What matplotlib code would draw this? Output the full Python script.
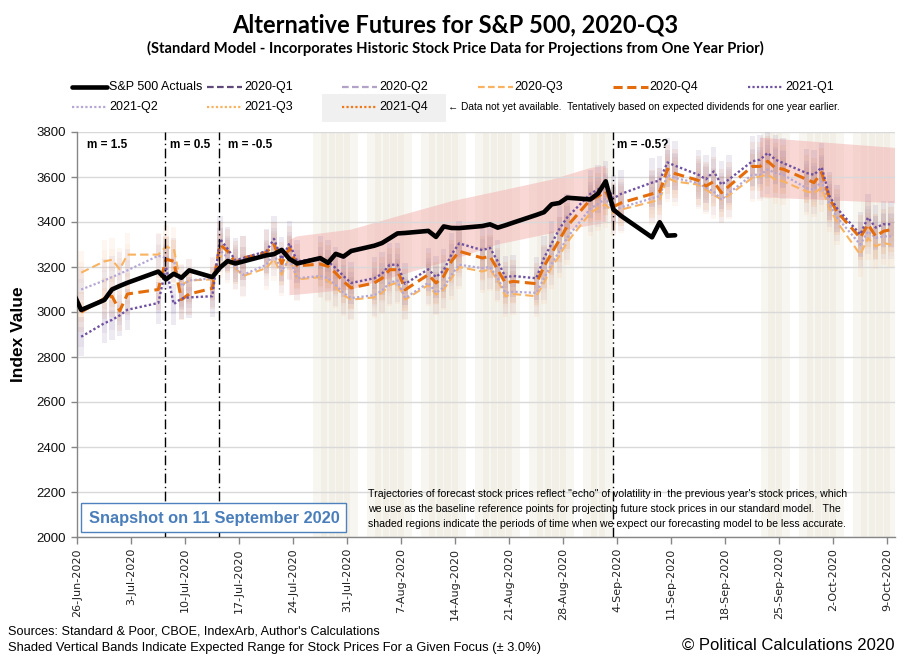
import matplotlib
matplotlib.use('Agg')
import matplotlib.pyplot as plt
import matplotlib.dates as mdates
import pandas as pd
from matplotlib.lines import Line2D
from matplotlib.patches import Rectangle

# ---------------- data ----------------
actual_dates = ['06-25', '06-26', '06-29', '06-30', '07-01', '07-02', '07-06', '07-07', '07-08', '07-09',
                '07-10', '07-13', '07-14', '07-15', '07-16', '07-17', '07-20', '07-21', '07-22', '07-23',
                '07-24', '07-27', '07-28', '07-29', '07-30', '07-31', '08-03', '08-04', '08-05', '08-06',
                '08-07', '08-10', '08-11', '08-12', '08-13', '08-14', '08-17', '08-18', '08-19', '08-20',
                '08-21', '08-24', '08-25', '08-26', '08-27', '08-28', '08-31', '09-01', '09-02', '09-03',
                '09-04', '09-08', '09-09', '09-10', '09-11']
actual_values = [3083.76, 3009.05, 3053.24, 3100.29, 3115.86, 3130.01, 3179.72, 3145.32, 3169.94, 3152.05,
                 3185.04, 3155.22, 3197.52, 3226.56, 3215.57, 3224.73, 3251.84, 3257.30, 3276.02, 3235.66,
                 3215.63, 3239.41, 3218.44, 3258.44, 3246.22, 3271.12, 3294.61, 3306.51, 3327.77, 3349.16,
                 3351.28, 3360.47, 3333.69, 3380.35, 3373.43, 3372.85, 3381.99, 3389.78, 3374.85, 3385.51,
                 3397.16, 3431.28, 3443.62, 3478.73, 3484.55, 3508.01, 3500.31, 3526.65, 3580.84, 3455.06,
                 3426.96, 3331.84, 3398.96, 3339.19, 3340.97]

forecast_dates = ['06-26', '06-29', '06-30', '07-01', '07-02', '07-06', '07-07', '07-08', '07-09', '07-10',
                  '07-13', '07-14', '07-15', '07-16', '07-17', '07-20', '07-21', '07-22', '07-23', '07-24',
                  '07-27', '07-28', '07-29', '07-30', '07-31', '08-03', '08-04', '08-05', '08-06', '08-07',
                  '08-10', '08-11', '08-12', '08-13', '08-14', '08-17', '08-18', '08-19', '08-20', '08-21',
                  '08-24', '08-25', '08-26', '08-27', '08-28', '08-31', '09-01', '09-02', '09-03', '09-04',
                  '09-08', '09-09', '09-10', '09-11', '09-14', '09-15', '09-16', '09-17', '09-18', '09-21',
                  '09-22', '09-23', '09-24', '09-25', '09-28', '09-29', '09-30', '10-01', '10-02', '10-05',
                  '10-06', '10-07', '10-08', '10-09']

q3_2020 = [3175, 3225, 3232, 3190, 3255, 3255, 3290, 3280, 3120, 3140,
           3145, 3250, 3225, 3195, 3160, 3195, 3235, 3165, 3245, 3145,
           3155, 3140, 3110, 3075, 3055, 3065, 3085, 3120, 3130, 3055,
           3120, 3077, 3100, 3150, 3200, 3180, 3190, 3140, 3070, 3080,
           3070, 3130, 3200, 3250, 3310, 3440, 3462, 3477, 3440, 3455,
           3490, 3500, 3596, 3580, 3566, 3544, 3521, 3499, 3520, 3596,
           3603, 3610, 3588, 3581, 3536, 3529, 3551, 3460, 3400, 3255,
           3329, 3292, 3307, 3299]
q4_2020 = [3000, 3060, 3070, 3005, 3080, 3100, 3235, 3225, 3055, 3080,
           3105, 3300, 3270, 3220, 3240, 3265, 3300, 3215, 3285, 3205,
           3213, 3203, 3173, 3136, 3107, 3129, 3150, 3188, 3188, 3099,
           3166, 3129, 3159, 3225, 3270, 3240, 3247, 3188, 3129, 3136,
           3126, 3203, 3262, 3321, 3381, 3499, 3514, 3536, 3468, 3485,
           3525, 3535, 3635, 3615, 3585, 3560, 3580, 3530, 3560, 3647,
           3647, 3670, 3640, 3635, 3590, 3575, 3620, 3505, 3445, 3330,
           3390, 3336, 3359, 3366]
q1_2021 = [2890, 2950, 2965, 2985, 3010, 3040, 3200, 3035, 3060, 3065,
           3070, 3325, 3280, 3230, 3240, 3270, 3325, 3235, 3305, 3225,
           3240, 3225, 3195, 3160, 3129, 3150, 3170, 3210, 3210, 3125,
           3190, 3155, 3185, 3255, 3305, 3275, 3285, 3225, 3155, 3160,
           3150, 3240, 3305, 3370, 3420, 3525, 3545, 3566, 3505, 3525,
           3575, 3585, 3665, 3650, 3610, 3590, 3625, 3566, 3590, 3670,
           3677, 3707, 3677, 3662, 3618, 3610, 3643, 3515, 3460, 3345,
           3420, 3375, 3390, 3390]
q2_2021 = [3100, 3140, 3155, 3170, 3185, 3250, 3240, 3230, 3115, 3140,
           3150, 3275, 3240, 3200, 3165, 3210, 3260, 3180, 3240, 3150,
           3160, 3150, 3120, 3085, 3062, 3075, 3095, 3130, 3140, 3062,
           3130, 3085, 3110, 3165, 3210, 3195, 3200, 3150, 3085, 3090,
           3085, 3150, 3215, 3270, 3330, 3460, 3480, 3505, 3450, 3465,
           3505, 3515, 3610, 3595, 3573, 3551, 3536, 3499, 3530, 3610,
           3610, 3633, 3618, 3610, 3551, 3544, 3581, 3480, 3420, 3300,
           3359, 3329, 3336, 3336]

range_dates = ['07-23', '07-24', '07-31', '08-06', '08-13', '08-19', '08-26', '08-31', '09-02',
               '09-03', '09-22', '10-10']
range_high = [3320, 3336, 3366, 3425, 3492, 3536, 3588, 3640, 3650,
              None, 3775, 3728]
range_low = [3075, 3077, 3100, 3160, 3230, 3300, 3350, 3385, 3395,
             None, 3510, 3483]

less_accurate_days = ['07-27', '07-28', '07-29', '07-30', '07-31', '08-03', '08-04', '08-05', '08-06',
                      '08-07', '08-10', '08-11', '08-12', '08-13', '08-14', '08-17', '08-18', '08-19',
                      '08-20', '08-21', '08-24', '08-25', '08-26', '08-27', '08-28', '08-31', '09-01',
                      '09-02', '09-23', '09-24', '09-25', '09-28', '09-29', '09-30', '10-01', '10-02',
                      '10-05', '10-06', '10-07', '10-08', '10-09']

divider_dates = ['07-07', '07-14', '09-03']
m_labels = ['m = 1.5', 'm = 0.5', 'm = -0.5', 'm = -0.5?']

tick_dates = ['06-26', '07-03', '07-10', '07-17', '07-24', '07-31', '08-07', '08-14', '08-21',
              '08-28', '09-04', '09-11', '09-18', '09-25', '10-02', '10-09']
tick_labels = ['26-Jun-2020', '3-Jul-2020', '10-Jul-2020', '17-Jul-2020', '24-Jul-2020', '31-Jul-2020',
               '7-Aug-2020', '14-Aug-2020', '21-Aug-2020', '28-Aug-2020', '4-Sep-2020', '11-Sep-2020',
               '18-Sep-2020', '25-Sep-2020', '2-Oct-2020', '9-Oct-2020']
y_ticks = [2000, 2200, 2400, 2600, 2800, 3000, 3200, 3400, 3600, 3800]

legend_row1 = ['S&P 500 Actuals', '2020-Q1', '2020-Q2', '2020-Q3', '2020-Q4', '2021-Q1']
legend_row2 = ['2021-Q2', '2021-Q3', '2021-Q4']

# ---------------- helpers ----------------
W, H = 910, 661


def dnum(md, noon=False):
    t = pd.Timestamp('2020-' + md)
    if noon:
        t = t + pd.Timedelta(hours=12)
    return mdates.date2num(t)


def fx(px):
    return px / W


def fy(py):
    return 1 - py / H


NARROW = ['Liberation Sans Narrow', 'Liberation Sans', 'DejaVu Sans']

fig = plt.figure(figsize=(W / 100, H / 100), dpi=100)
ax = fig.add_axes([fx(77.3), fy(537), (895 - 77.3) / W, (537 - 132) / H])

# beige "less accurate" bands
for d in less_accurate_days:
    x0 = dnum(d)
    ax.axvspan(x0 - 0.4, x0 + 1.4, color='#e8e3d3', alpha=0.32, lw=0, zorder=0.1)

# pink expected range band
rx = [dnum(d, True) for d in range_dates]
rh = [float('nan') if v is None else v for v in range_high]
rl = [float('nan') if v is None else v for v in range_low]
ax.fill_between(rx, rl, rh, color='#f3b6b3', alpha=0.55, lw=0, zorder=0.3)

# forecast series
fxs = [dnum(d, True) for d in forecast_dates]
series = [
    (q3_2020, '#f9b25f', (0, (4, 2)), 1.5, '#fac090'),
    (q2_2021, '#b4a7d6', (0, (1, 1)), 1.6, '#b3a2c7'),
    (q4_2020, '#e46c0a', (0, (3.5, 1.8)), 2.2, '#f79646'),
    (q1_2021, '#6f51a1', (0, (1, 1)), 1.7, '#8064a2'),
]
for vals, col, ls, lw, bcol in series:
    lo = [v * 0.97 for v in vals]
    hgt = [v * 0.06 for v in vals]
    ax.bar(fxs, hgt, bottom=lo, width=0.7, color=bcol, alpha=0.13, lw=0, zorder=1)
    lo2 = [v * 0.985 for v in vals]
    hgt2 = [v * 0.03 for v in vals]
    ax.bar(fxs, hgt2, bottom=lo2, width=0.7, color=bcol, alpha=0.08, lw=0, zorder=1)
for vals, col, ls, lw, bcol in series:
    ax.plot(fxs, vals, color=col, ls=ls, lw=lw, zorder=3)

# actuals
axs = [dnum(d, True) for d in actual_dates]
ax.plot(axs, actual_values, color='black', lw=3.3, solid_joinstyle='round',
        solid_capstyle='round', zorder=4)

# dividers
for d in divider_dates:
    ax.axvline(dnum(d) + 0.4, color='black', lw=1.0, ls=(0, (7, 2.5, 1, 2.5)), zorder=5)

# m labels
m_px = [87, 170, 228, 617]
for lab, px in zip(m_labels, m_px):
    ax.text((px - 77.3) / (895 - 77.3), 1 - 13 / 405, lab, transform=ax.transAxes,
            fontsize=8.5, fontweight='bold', family='Liberation Sans', va='center', ha='left', zorder=6)

# axes formatting
ax.set_xlim(dnum('06-26'), dnum('10-10'))
ax.set_ylim(2000, 3800)
ax.set_xticks([dnum(d) for d in tick_dates])
ax.set_xticklabels(tick_labels, rotation=90, fontsize=8, family='DejaVu Sans', color='#222222')
ax.set_yticks(y_ticks)
ax.set_yticklabels([str(v) for v in y_ticks], fontsize=9.5, family='Liberation Sans', color='#111111')
ax.tick_params(axis='x', length=5, width=1, color='#868686', pad=3)
ax.tick_params(axis='y', length=4, width=1, color='#868686', pad=4)
ax.yaxis.grid(True, color='#d9d9d9', lw=1)
ax.set_axisbelow(True)
for s in ['top', 'right']:
    ax.spines[s].set_visible(False)
for s in ['left', 'bottom']:
    ax.spines[s].set_color('#868686')
    ax.spines[s].set_linewidth(1)
ax.set_ylabel('Index Value', fontsize=12.5, fontweight='bold', family='Liberation Sans', labelpad=8)

# titles
fig.text(0.5, fy(25), 'Alternative Futures for S&P 500, 2020-Q3', ha='center', va='center',
         fontsize=17, fontweight='bold', family=['Lato', 'DejaVu Sans'])
fig.text(0.5, fy(48), '(Standard Model - Incorporates Historic Stock Price Data for Projections from One Year Prior)',
         ha='center', va='center', fontsize=10.6, fontweight='bold', family=['Lato', 'DejaVu Sans'])

# legend (manual, Excel-like grid)
leg_styles = {
    'S&P 500 Actuals': dict(color='black', lw=3.3, ls='-'),
    '2020-Q1': dict(color='#5f497a', lw=1.6, ls=(0, (3, 1.5))),
    '2020-Q2': dict(color='#b3a2c7', lw=1.6, ls=(0, (3, 1.5))),
    '2020-Q3': dict(color='#f9b25f', lw=1.6, ls=(0, (3, 1.5))),
    '2020-Q4': dict(color='#e46c0a', lw=2.2, ls=(0, (3, 1.5))),
    '2021-Q1': dict(color='#6f51a1', lw=1.6, ls=(0, (1, 1))),
    '2021-Q2': dict(color='#b4a7d6', lw=1.6, ls=(0, (1, 1))),
    '2021-Q3': dict(color='#f9b25f', lw=1.6, ls=(0, (1, 1))),
    '2021-Q4': dict(color='#f07818', lw=1.6, ls=(0, (1, 1))),
}
fig.add_artist(Rectangle((fx(322), fy(122)), fx(446) - fx(322), fy(94) - fy(122),
                         transform=fig.transFigure, facecolor='#f0f0f0', edgecolor='none', zorder=0))
for row, (labels, py) in enumerate([(legend_row1, 87), (legend_row2, 107)]):
    for k, lab in enumerate(labels):
        x0 = 72 + 135.2 * k
        st = leg_styles[lab]
        fig.add_artist(Line2D([fx(x0), fx(x0 + 35)], [fy(py), fy(py)], transform=fig.transFigure,
                              color=st['color'], lw=st['lw'], ls=st['ls'],
                              solid_capstyle='round' if lab.startswith('S&P') else 'butt'))
        fig.text(fx(x0 + 37), fy(py), lab, ha='left', va='center', fontsize=9, family='Liberation Sans')
fig.text(fx(448), fy(107), '\u2190 Data not yet available.  Tentatively based on expected dividends for one year earlier.',
         ha='left', va='center', fontsize=7.3, family=NARROW)

# snapshot box
fig.add_artist(Rectangle((fx(81), fy(532)), fx(346) - fx(81), fy(503) - fy(532),
                         transform=fig.transFigure, facecolor='white', edgecolor='#4f81bd', lw=1, zorder=6))
fig.text(fx(214), fy(518), 'Snapshot on 11 September 2020', ha='center', va='center',
         fontsize=11.8, fontweight='bold', color='#4a7ebb', family=NARROW, zorder=7)

# note
note_lines = ['Trajectories of forecast stock prices reflect "echo" of volatility in  the previous year\'s stock prices, which',
              'we use as the baseline reference points for projecting future stock prices in our standard model.   The',
              'shaded regions indicate the periods of time when we expect our forecasting model to be less accurate.']
for i, ln in enumerate(note_lines):
    fig.text(fx(368), fy(494 + 15 * i), ln, ha='left', va='center', fontsize=7.55, family=NARROW, zorder=7)

# footer
fig.text(fx(8), fy(631), "Sources: Standard & Poor, CBOE, IndexArb, Author's Calculations",
         ha='left', va='center', fontsize=9.1, family=NARROW)
fig.text(fx(8), fy(648), 'Shaded Vertical Bands Indicate Expected Range for Stock Prices For a Given Focus (\u00b1 3.0%)',
         ha='left', va='center', fontsize=9.3, family=NARROW)
fig.text(fx(895), fy(645), '\u00a9 Political Calculations 2020', ha='right', va='center',
         fontsize=12, family=NARROW)

fig.savefig('out.png', dpi=100)
